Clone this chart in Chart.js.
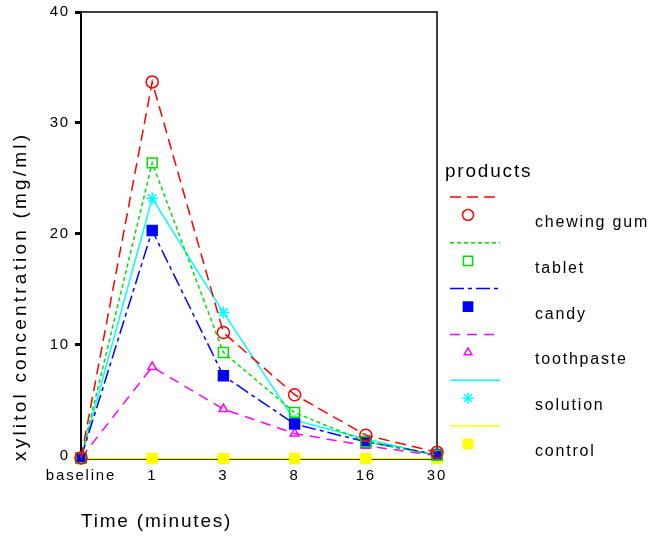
<!DOCTYPE html>
<html>
<head>
<meta charset="utf-8">
<script src="https://cdn.jsdelivr.net/npm/chart.js@4.4.1/dist/chart.umd.min.js"></script>
<style>
  html, body { margin: 0; padding: 0; background: #fff; }
  #wrap { width: 651px; height: 539px; position: relative; }
</style>
</head>
<body>
<div id="wrap"><canvas id="chart"></canvas></div>
<script>
// time points (minutes)
const timeLabels = ['baseline', '1', '3', '8', '16', '30'];

// xylitol concentration (mg/ml) per product
const chewingGum = [-0.2, 33.7, 11.1, 5.5, 1.85, 0.3];
const tablet     = [-0.2, 26.4, 9.3, 3.9, 1.25, 0.05];
const candy      = [-0.2, 20.3, 7.2, 2.85, 1.25, 0.1];
const toothpaste = [-0.2, 8.0, 4.2, 2.0, 0.9, 0.0];
const solution   = [-0.2, 23.2, 12.9, 3.2, 1.5, 0.0];
const control    = [-0.25, -0.25, -0.25, -0.25, -0.25, -0.25];

const yTicks = [0, 10, 20, 30, 40];
const yTitle = 'xylitol concentration (mg/ml)';

const FONT = '"Liberation Sans", Arial, sans-serif';
const SPACING = '1.8px';

function series(label, data, color, dash, style, radius, filled) {
  return {
    label, data,
    borderColor: color,
    borderWidth: 1.5,
    borderDash: dash,
    pointStyle: style,
    pointRadius: radius,
    pointHoverRadius: radius,
    pointBorderColor: color,
    pointBorderWidth: 1.5,
    pointBackgroundColor: filled ? color : 'rgba(0,0,0,0)',
    tension: 0,
    clip: false
  };
}

const datasets = [
  series('chewing gum', chewingGum, '#ff0000', [11, 6], 'circle', 6, false),
  series('tablet', tablet, '#00e000', [4, 3], 'rect', 7, false),
  series('candy', candy, '#0000ff', [14, 4, 4, 4], 'rect', 7, true),
  series('toothpaste', toothpaste, '#ff00ff', [10, 7], 'triangle', 5, false),
  series('solution', solution, '#00ffff', [], 'star', 6, false),
  series('control', control, '#ffff00', [], 'rect', 7, true)
];

// spacing the text out like the original picture
const spacingPlugin = {
  id: 'spacing',
  beforeDraw(chart) { chart.ctx.letterSpacing = SPACING; }
};

// top and right edges of the plot frame, plus the rotated y title
const framePlugin = {
  id: 'frame',
  beforeDatasetsDraw(chart) {
    const a = chart.chartArea, ctx = chart.ctx;
    ctx.save();
    ctx.strokeStyle = '#000';
    ctx.lineWidth = 1.5;
    ctx.beginPath();
    ctx.moveTo(a.left, a.top);
    ctx.lineTo(a.right, a.top);
    ctx.lineTo(a.right, a.bottom);
    ctx.stroke();

    ctx.translate(21, a.bottom + 2);
    ctx.rotate(-Math.PI / 2);
    ctx.letterSpacing = '3.2px';
    ctx.font = '19px ' + FONT;
    ctx.fillStyle = '#000';
    ctx.textAlign = 'left';
    ctx.textBaseline = 'middle';
    ctx.fillText(yTitle, 0, 0);
    ctx.restore();
  }
};

// legend on the right: line sample, marker under it, label to the right
const legendPlugin = {
  id: 'sideLegend',
  afterDraw(chart) {
    const ctx = chart.ctx;
    ctx.save();
    ctx.letterSpacing = SPACING;
    ctx.fillStyle = '#000';
    ctx.textBaseline = 'middle';
    ctx.textAlign = 'left';
    ctx.font = '19px ' + FONT;
    ctx.fillText('products', 445, 172);
    ctx.font = '16px ' + FONT;
    chart.data.datasets.forEach((ds, i) => {
      const y0 = 197 + i * 45.8;
      ctx.strokeStyle = ds.borderColor;
      ctx.lineWidth = 1.5;
      ctx.setLineDash(ds.borderDash || []);
      ctx.beginPath();
      ctx.moveTo(450, y0);
      ctx.lineTo(500, y0);
      ctx.stroke();
      ctx.setLineDash([]);
      ctx.strokeStyle = ds.pointBorderColor;
      ctx.fillStyle = ds.pointBackgroundColor;
      ctx.lineWidth = ds.pointBorderWidth;
      Chart.helpers.drawPoint(ctx, {
        pointStyle: ds.pointStyle, radius: ds.pointRadius - 0.5,
        borderWidth: ds.pointBorderWidth, rotation: 0
      }, 468, y0 + 18);
      ctx.fillStyle = '#000';
      ctx.fillText(ds.label, 535, y0 + 25.5);
    });
    ctx.restore();
  }
};

new Chart(document.getElementById('chart'), {
  type: 'line',
  data: { labels: timeLabels, datasets },
  plugins: [spacingPlugin, framePlugin, legendPlugin],
  options: {
    responsive: true,
    maintainAspectRatio: false,
    animation: false,
    events: [],
    layout: { padding: { left: 0, top: 12, right: 214, bottom: 0 } },
    plugins: { legend: { display: false }, tooltip: { enabled: false } },
    scales: {
      x: {
        offset: false,
        afterFit: s => { s.height = 80; s.paddingLeft = 0; s.paddingRight = 0; },
        grid: { display: false, drawTicks: false },
        border: { display: true, color: '#000', width: 2 },
        ticks: { color: '#000', padding: 8, maxRotation: 0, font: { family: FONT, size: 15 } },
        title: {
          display: true, text: 'Time (minutes)', align: 'start', color: '#000',
          font: { family: FONT, size: 19 }, padding: { top: 0, bottom: 6 }
        }
      },
      y: {
        min: -0.3,
        max: 40,
        afterFit: s => { s.width = 81; s.paddingTop = 0; s.paddingBottom = 0; },
        afterBuildTicks: s => { s.ticks = yTicks.map(v => ({ value: v })); },
        grid: { drawOnChartArea: false, drawTicks: true, tickLength: 6, tickWidth: 3, tickColor: '#000' },
        border: { display: true, color: '#000', width: 2 },
        ticks: { color: '#000', padding: 5, font: { family: FONT, size: 15 } },
        title: { display: false }
      }
    }
  }
});
</script>
</body>
</html>
